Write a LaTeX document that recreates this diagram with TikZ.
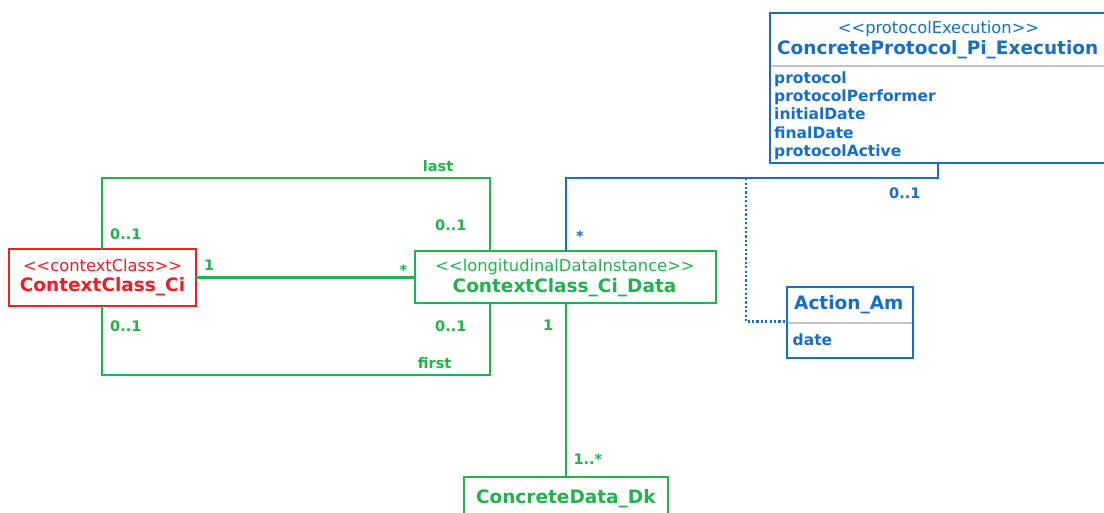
\documentclass[tikz,border=0pt]{standalone}
\usepackage{fontspec}
\setmainfont{DejaVu Sans}
\definecolor{umlgreen}{RGB}{34,177,76}
\definecolor{umlred}{RGB}{240,30,36}
\definecolor{umlblue}{RGB}{24,110,196}
\definecolor{sepgray}{RGB}{195,195,195}
\begin{document}
\begin{tikzpicture}[x=1pt,y=-1pt,
  umlbox/.style={draw, line width=2.3pt, fill=white, inner sep=0pt, outer sep=0pt},
  stereotxt/.style={font=\fontsize{16.3}{18}\selectfont, inner sep=0pt, anchor=base},
  nametxt/.style={font=\fontsize{18.5}{22}\selectfont\bfseries, inner sep=0pt, anchor=base},
  attrtxt/.style={font=\fontsize{15.5}{18}\selectfont\bfseries, inner sep=0pt, anchor=base west},
  multtxt/.style={font=\fontsize{14.5}{17}\selectfont\bfseries, inner sep=0pt, anchor=base west},
  assoc/.style={line width=2.3pt},
  sepline/.style={draw=sepgray, line width=2pt},
  dotline/.style={line width=2.4pt, dash pattern=on 2.2pt off 2.2pt}
]
\useasboundingbox (0,0) rectangle (1104,513);
\clip (0,0) rectangle (1104,513);
\fill[white] (0,0) rectangle (1104,513);

% ---------- connector corner points ----------
\coordinate (lastL)  at (101.7,178.3);
\coordinate (lastR)  at (490,178.3);
\coordinate (firstL) at (101.7,375);
\coordinate (firstR) at (490,375);
\coordinate (pbend)  at (938.3,178.3);
\coordinate (lbend)  at (566,178.3);
\coordinate (dtop)   at (745.7,178.3);
\coordinate (dcorner) at (745.7,321.7);

% ---------- class boxes ----------
\node[umlbox, draw=umlred, minimum width=186.4pt, minimum height=56.7pt] (R) at (102.5,277.4) {};
\node[umlbox, draw=umlgreen, minimum width=301.3pt, minimum height=52.3pt] (L) at (565.35,277.15) {};
\node[umlbox, draw=umlblue, minimum width=340pt, minimum height=150pt] (P) at (940,88.3) {};
\node[umlbox, draw=umlblue, minimum width=126.6pt, minimum height=71.6pt] (A) at (850,322.5) {};
\node[umlbox, draw=umlgreen, minimum width=203.4pt, minimum height=72.7pt] (D) at (566,513.65) {};

% compartment separators
\draw[sepline] ([xshift=1.2pt]P.west |- 0,65.7) -- ([xshift=-1.2pt]P.east |- 0,65.7);
\draw[sepline] ([xshift=1.2pt]A.west |- 0,322.7) -- ([xshift=-1.2pt]A.east |- 0,322.7);

% ---------- connectors ----------
\draw[assoc, umlgreen] (R.east) -- (R.east -| L.west);
\draw[assoc, umlgreen] (R.north -| lastL) -- (lastL) -- (lastR) -- (L.north -| lastR);
\draw[assoc, umlgreen] (R.south -| firstL) -- (firstL) -- (firstR) -- (L.south -| firstR);
\draw[assoc, umlgreen] (L.south -| D.north) -- (D.north);
\draw[assoc, umlblue] (P.south -| pbend) -- (pbend) -- (lbend) -- (L.north -| lbend);
\draw[dotline, umlblue] (dtop) -- (dcorner) -- (dcorner -| A.west);

% ---------- class texts ----------
\node[stereotxt, text=umlred] (Rst) at (102.5,272) {<{}<contextClass>{}>};
\node[nametxt, text=umlred] (Rnm) at (102.5,292) {ContextClass\_Ci};

\node[stereotxt, text=umlgreen] (Lst) at (565,271.7) {<{}<longitudinalDataInstance>{}>};
\node[nametxt, text=umlgreen] (Lnm) at (564.5,292.7) {ContextClass\_Ci\_Data};

\node[stereotxt, text=umlblue] (Pst) at (938.5,33.3) {<{}<protocolExecution>{}>};
\node[nametxt, text=umlblue] (Pnm) at (937.7,55) {ConcreteProtocol\_Pi\_Execution};
\node[attrtxt, text=umlblue] (Pa1) at (774,83.3) {protocol};
\node[attrtxt, text=umlblue] (Pa2) at (774,101.7) {protocolPerformer};
\node[attrtxt, text=umlblue] (Pa3) at (774,120) {initialDate};
\node[attrtxt, text=umlblue] (Pa4) at (774,139) {finalDate};
\node[attrtxt, text=umlblue] (Pa5) at (774,156.7) {protocolActive};

\node[nametxt, text=umlblue, anchor=base west] (Anm) at (794,310) {Action\_Am};
\node[attrtxt, text=umlblue] (Aa1) at (792.5,345.7) {date};

\node[nametxt, text=umlgreen] (Dnm) at (565.8,503) {ConcreteData\_Dk};

% ---------- multiplicities and role names ----------
\node[multtxt, text=umlgreen] (mLast) at (422.7,171.7) {last};
\node[multtxt, text=umlgreen] (mRtop) at (110,240) {0..1};
\node[multtxt, text=umlgreen] (mLtop) at (435,230.7) {0..1};
\node[multtxt, text=umlgreen] (mR1) at (204,270.7) {1};
\node[multtxt, text=umlgreen, anchor=center] (mLstar) at (403.5,270) {*};
\node[multtxt, text=umlgreen] (mRbot) at (110,331.7) {0..1};
\node[multtxt, text=umlgreen] (mLbot) at (435,331.7) {0..1};
\node[multtxt, text=umlgreen] (mFirst) at (417.7,368.3) {first};
\node[multtxt, text=umlgreen] (mL1) at (543,330.7) {1};
\node[multtxt, text=umlgreen] (mD) at (573.3,464) {1..*};
\node[multtxt, text=umlblue] (mP) at (889,198.3) {0..1};
\node[multtxt, text=umlblue, anchor=center] (mLbstar) at (580,236) {*};
\end{tikzpicture}
\end{document}
